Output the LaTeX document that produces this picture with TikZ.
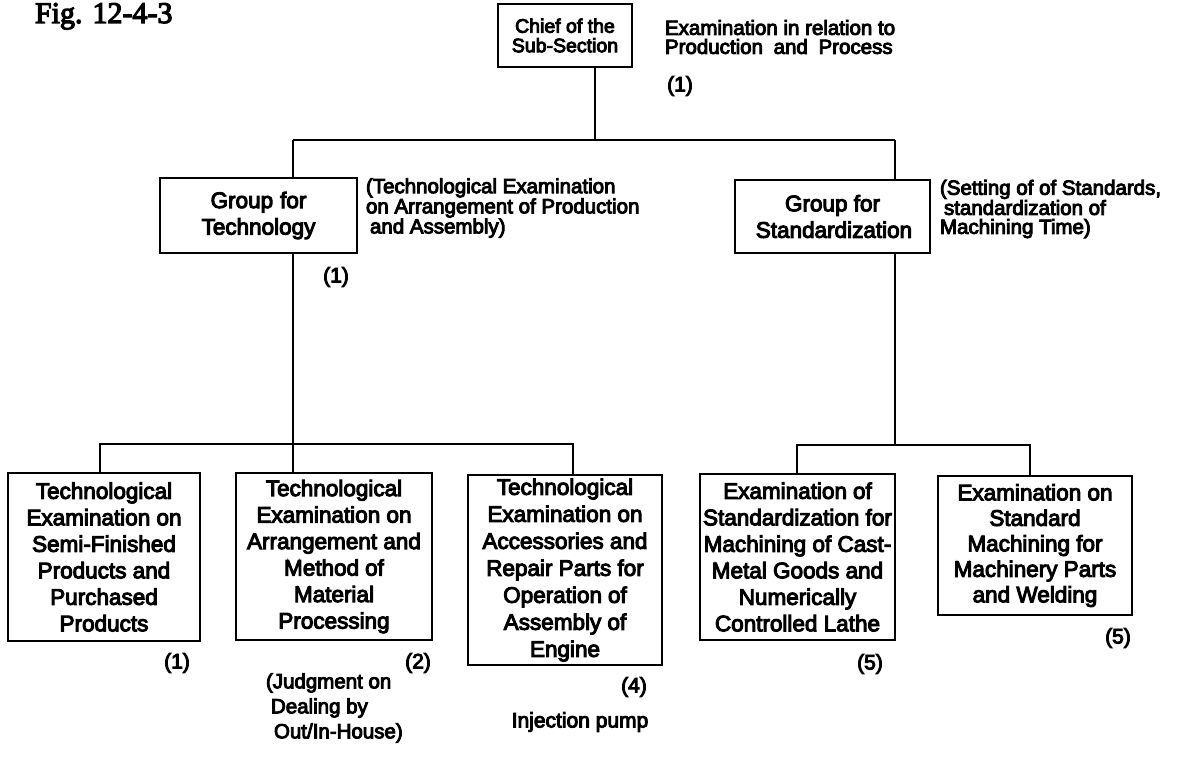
\documentclass[tikz,border=0pt]{standalone}
\usepackage{fontspec}
\newfontfamily\orgfont{Liberation Sans}[FakeBold=4.5]
\newfontfamily\figfont{Liberation Serif}[FakeBold=4]
\begin{document}
\begin{tikzpicture}[x=1pt,y=-1pt,
  every node/.style={inner sep=0pt, outer sep=0pt},
  box/.style={draw, line width=2.2pt, rectangle, align=center,
    font=\orgfont\fontsize{22.5}{26.5}\selectfont},
  link/.style={line width=2.8pt},
  note/.style={align=left, anchor=west,
    font=\orgfont\fontsize{20.5}{19}\selectfont},
  tag/.style={font=\orgfont\fontsize{21}{21}\selectfont}
]
\useasboundingbox (0,0) rectangle (1192,757);

% caption
\node[font=\figfont\fontsize{30}{30}\selectfont, anchor=base west] (fig) at (35,23) {Fig. 12-4-3};

% chief and the two groups
\node[box, minimum width=134pt, minimum height=63pt,
  font=\orgfont\fontsize{19.5}{19.5}\selectfont] (chief) at (565,35.5) {Chief of the\\Sub-Section};
\node[box, minimum width=197pt, minimum height=75pt] (tech) at (258.5,215.5) {Group\hspace{7pt}for\\Technology};
\node[box, minimum width=195pt, minimum height=73pt] (std) at (832.5,216.5) {Group for\\\hspace{3pt}Standardization};

% working sections
\node[box, minimum width=192pt, minimum height=168pt] (b1) at (104,557)
  {Technological\\Examination on\\Semi-Finished\\Products and\\Purchased\\Products};
\node[box, minimum width=196pt, minimum height=167pt] (b2) at (334,556.5)
  {Technological\\Examination on\\Arrangement and\\Method\hspace{6pt}of\\Material\\Processing};
\node[box, minimum width=194pt, minimum height=190pt,
  font=\orgfont\fontsize{22.5}{27}\selectfont] (b3) at (565,570)
  {Technological\\Examination on\\Accessories and\\Repair Parts for\\Operation\hspace{6pt}of\\Assembly of\\Engine};
\node[box, minimum width=195pt, minimum height=166pt] (b4) at (797.5,557)
  {Examination\hspace{6pt}of\\Standardization for\\Machining of Cast-\\Metal Goods and\\Numerically\\Controlled Lathe};
\node[box, minimum width=194pt, minimum height=139pt,
  font=\orgfont\fontsize{22.5}{25.5}\selectfont] (b5) at (1035,545.5)
  {Examination on\\Standard\\Machining for\\Machinery Parts\\and Welding};

% remarks beside the boxes
\node[note] (chiefnote) at (665,37) {Examination in relation to\\Production\hspace{5pt} and\hspace{5pt} Process};
\node[note] (technote) at (366,208) {(Technological Examination\\on Arrangement of Production\\\hspace{4pt}and Assembly)};
\node[note] (stdnote) at (940,209) {(Setting of of Standards,\\\hspace{4pt}standardization of\\Machining Time)};
\node[note, font=\orgfont\fontsize{20.5}{25}\selectfont] (judge) at (266,708)
  {(Judgment on\\\hspace{5pt}Dealing by\\\hspace{8pt}Out/In-House)};
\node[tag] (pump) at (580,722) {Injection pump};

% staff numbers
\node[tag] (n0) at (680,86) {(1)};
\node[tag] (nt) at (336,277) {(1)};
\node[tag] (n1) at (177,663) {(1)};
\node[tag] (n2) at (418,663) {(2)};
\node[tag] (n3) at (634,687) {(4)};
\node[tag] (n4) at (870,664) {(5)};
\node[tag] (n5) at (1118,638) {(5)};

% junctions of the tree
\coordinate (jc) at (595,140);
\coordinate (jt) at (293,140);
\coordinate (js) at (895,140);
\coordinate (jl) at (293,444);
\coordinate (jr) at (895,445);
\coordinate (l1) at (100,444);
\coordinate (l3) at (573,444);
\coordinate (r4) at (797,445);
\coordinate (r5) at (1030,445);

% connectors
\draw[link] (chief.south -| jc) -- (jc);
\draw[link] (jt) -- (js);
\draw[link] (jt) -- (jt |- tech.north);
\draw[link] (jt |- tech.south) -- (jl) -- (jl |- b2.north);
\draw[link] (l1 |- b1.north) -- (l1) -- (l3) -- (l3 |- b3.north);
\draw[link] (js) -- (js |- std.north);
\draw[link] (js |- std.south) -- (jr);
\draw[link] (r4 |- b4.north) -- (r4) -- (r5) -- (r5 |- b5.north);
\end{tikzpicture}
\end{document}
